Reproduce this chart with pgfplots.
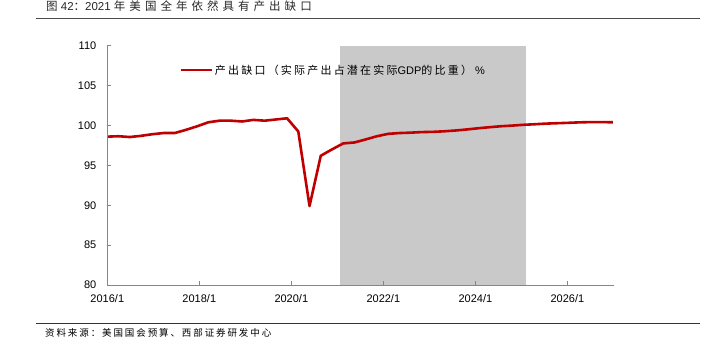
\documentclass[border=0pt]{standalone}
\usepackage{fontspec}
\setmainfont{Liberation Sans}
\newfontfamily\cjkt[LetterSpace=35]{Noto Sans CJK SC}
\newfontfamily\cjkl[LetterSpace=20]{Noto Sans CJK SC}
\newfontfamily\cjks[LetterSpace=20]{Noto Sans CJK SC}
\usepackage{pgfplots}
\pgfplotsset{compat=1.18}
\definecolor{lred}{RGB}{192,0,0}
\definecolor{shade}{RGB}{201,201,201}
\definecolor{axgray}{RGB}{134,134,134}
\pgfplotstableread{
k v
0 98.6
1 98.65
2 98.55
3 98.7
4 98.9
5 99.05
6 99.05
7 99.45
8 99.9
9 100.4
10 100.6
11 100.6
12 100.5
13 100.7
14 100.6
15 100.75
16 100.9
17 99.25
18 89.9
19 96.2
20 97.0
21 97.75
22 97.87
23 98.25
24 98.65
25 98.95
26 99.05
27 99.1
28 99.17
29 99.2
30 99.27
31 99.37
32 99.5
33 99.65
34 99.78
35 99.9
36 99.98
37 100.08
38 100.15
39 100.23
40 100.28
41 100.33
42 100.39
43 100.42
44 100.42
45 100.4
}\gap
\begin{document}
\begin{tikzpicture}
\useasboundingbox (0,0) rectangle (704bp,352bp);
\node[anchor=west, inner sep=0pt, text=black!85] at (46bp,346bp) {\fontsize{11.5bp}{13bp}\selectfont{\cjkt 图} 42{\cjkt ：}2021 {\cjkt 年美国全年依然具有产出缺口}};
\draw[black!70, line width=0.8bp] (36bp,333.3bp) -- (700bp,333.3bp);
\draw[black!80, line width=0.8bp] (36bp,28.7bp) -- (700bp,28.7bp);
\node[anchor=west, inner sep=0pt] at (45bp,19.5bp) {\fontsize{9.5bp}{11bp}\selectfont\cjks 资料来源：美国国会预算、西部证券研发中心};
\begin{axis}[
  at={(107.3bp,67bp)}, anchor=south west, scale only axis,
  width=506.7bp, height=239.3bp,
  xmin=0, xmax=45.1, ymin=80, ymax=110,
  axis x line*=bottom, axis y line*=left,
  axis line style={axgray, line width=0.75bp},
  axis on top,
  ytick={80,85,90,95,100,105,110},
  xtick={0,8.19,16.38,24.57,32.76,40.95},
  xticklabels={2016/1,2018/1,2020/1,2022/1,2024/1,2026/1},
  tick style={axgray, line width=0.75bp},
  tick align=inside, major tick length=4bp,
  ticklabel style={font=\fontsize{11bp}{13bp}\selectfont, text=black},
  /pgf/number format/assume math mode=true,
  yticklabel style={xshift=-7.5bp},
  xticklabel style={yshift=-6bp},
  legend style={draw=none, fill=none, at={(rel axis cs:0.136,0.898)}, anchor=west,
    font=\fontsize{11bp}{13bp}\selectfont},
  legend image code/.code={\draw[#1] (0bp,0bp) -- (31bp,0bp);},
]
\addplot[fill=shade, draw=none, forget plot] coordinates {(20.75,80) (37.25,80) (37.25,110) (20.75,110)} -- cycle;
\addplot[lred, line width=2.6bp, line join=round] table[x=k, y=v] {\gap};
\addlegendentry{{\cjkl 产出缺口（实际产出占潜在实际}GDP{\cjkl 的比重）} \%}
\end{axis}
\end{tikzpicture}
\end{document}
